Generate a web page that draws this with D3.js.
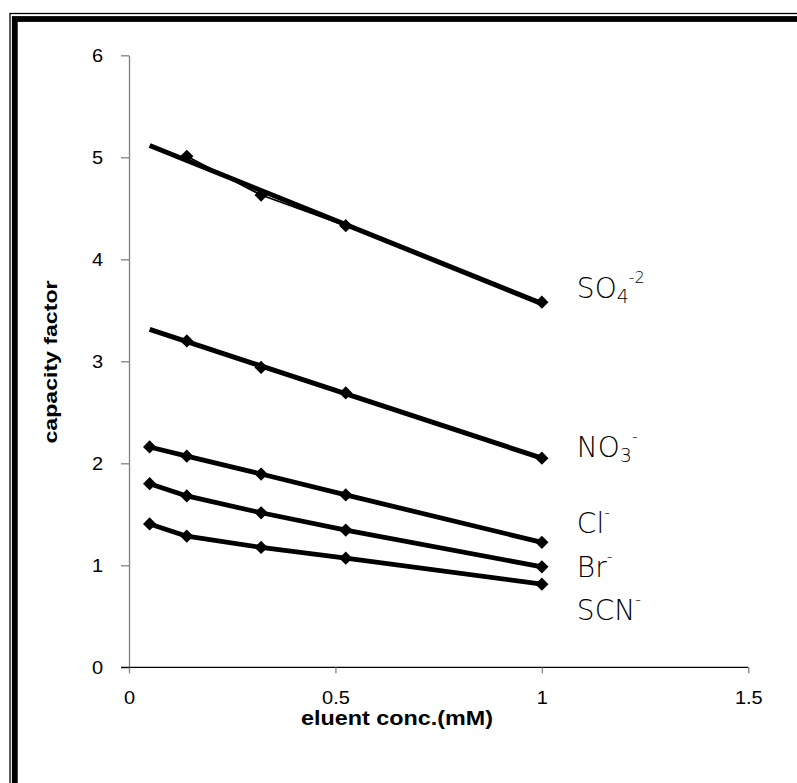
<!DOCTYPE html>
<html>
<head>
<meta charset="utf-8">
<script src="https://cdn.jsdelivr.net/npm/d3@7"></script>
<style>
body { margin: 0; background: #fff; }
svg { display: block; font-family: "Liberation Sans", Arial, sans-serif; }
</style>
</head>
<body>
<svg id="chart" width="797" height="783"></svg>
<script>
// eluent concentration (mM) shared by every series
var concentrations = [0.05, 0.14, 0.32, 0.525, 1.0];

// capacity factor per anion (null = not measured)
var sulfate = [null, 5.01, 4.63, 4.33, 3.58];
var nitrate = [null, 3.20, 2.94, 2.69, 2.05];
var chloride = [2.16, 2.07, 1.895, 1.69, 1.225];
var bromide = [1.80, 1.68, 1.515, 1.345, 0.985];
var thiocyanate = [1.405, 1.285, 1.175, 1.07, 0.815];

var xTicks = [0, 0.5, 1, 1.5];
var yTicks = [0, 1, 2, 3, 4, 5, 6];

var ionNames = ["SO", "NO", "Cl", "Br", "SCN"];
var ionSubs = ["4", "3", "", "", ""];
var ionCharges = ["-2", "-", "-", "-", "-"];
// level (capacity factor units) where each ion name sits
var labelLevels = [3.62, 2.06, 1.32, 0.89, 0.46];
// sulfate and nitrate are shown with a linear trendline
var withTrend = [true, true, false, false, false];

var series = [sulfate, nitrate, chloride, bromide, thiocyanate];

var svg = d3.select("#chart");

var x = d3.scaleLinear().domain([0, 1.5]).range([129, 748.3]);
var y = d3.scaleLinear().domain([0, 6]).range([667.3, 55.3]);

// stretch text horizontally like the original picture
var widen = function (sel, k) {
    sel.each(function () {
        var w = this.getComputedTextLength();
        d3.select(this).attr("textLength", w * k).attr("lengthAdjust", "spacingAndGlyphs");
    });
};

// double frame (only top and left fall inside the picture)
svg.append("rect")
    .attr("x", 10).attr("y", 13.5)
    .attr("width", 1000).attr("height", 1000)
    .attr("fill", "none").attr("stroke", "#000").attr("stroke-width", 1.3);
svg.append("rect")
    .attr("x", 14.8).attr("y", 19)
    .attr("width", 1000).attr("height", 1000)
    .attr("fill", "none").attr("stroke", "#000").attr("stroke-width", 5.8);

// y axis
var gy = svg.append("g")
    .attr("transform", "translate(" + x(0) + ",0)")
    .call(d3.axisLeft(y).tickValues(yTicks).tickSize(8).tickSizeOuter(0)
        .tickPadding(18).tickFormat(d3.format("d")));
gy.select(".domain").attr("stroke", "#808080").attr("stroke-width", 1.3);
gy.selectAll(".tick line").attr("stroke", "#808080").attr("stroke-width", 1.3);
gy.selectAll(".tick text").attr("font-size", 18.5).attr("fill", "#000")
    .attr("font-family", "Liberation Sans, Arial, sans-serif")
    .call(widen, 1.08);

// x axis
var gx = svg.append("g")
    .attr("transform", "translate(0," + y(0) + ")")
    .call(d3.axisBottom(x).tickValues(xTicks).tickSize(6).tickSizeOuter(0)
        .tickPadding(18).tickFormat(function (d) { return String(d); }));
gx.select(".domain")
    .attr("d", "M" + (x(0) - 8) + ",0H" + x(1.5))
    .attr("stroke", "#000").attr("stroke-width", 1.3);
gx.selectAll(".tick line").attr("stroke", "#808080").attr("stroke-width", 1.3);
gx.selectAll(".tick text").attr("font-size", 18.5).attr("fill", "#000")
    .attr("font-family", "Liberation Sans, Arial, sans-serif")
    .call(widen, 1.08);

// axis titles
svg.append("text")
    .attr("transform", "translate(57,362) rotate(-90)")
    .attr("text-anchor", "middle")
    .attr("font-weight", "bold")
    .attr("font-size", 18)
    .attr("textLength", 163).attr("lengthAdjust", "spacingAndGlyphs")
    .text("capacity factor");

svg.append("text")
    .attr("x", 397).attr("y", 725)
    .attr("text-anchor", "middle")
    .attr("font-weight", "bold")
    .attr("font-size", 19.5)
    .attr("textLength", 192).attr("lengthAdjust", "spacingAndGlyphs")
    .text("eluent conc.(mM)");

var points = function (values) {
    return values.map(function (v, i) {
        return { c: concentrations[i], v: v };
    });
};

var line = d3.line()
    .defined(function (d) { return d.v !== null; })
    .x(function (d) { return x(d.c); })
    .y(function (d) { return y(d.v); });

// least squares fit over the measured points
var fit = function (pts) {
    pts = pts.filter(function (d) { return d.v !== null; });
    var mx = d3.mean(pts, function (d) { return d.c; });
    var my = d3.mean(pts, function (d) { return d.v; });
    var sxy = d3.sum(pts, function (d) { return (d.c - mx) * (d.v - my); });
    var sxx = d3.sum(pts, function (d) { return (d.c - mx) * (d.c - mx); });
    var slope = sxy / sxx;
    return function (c) { return my + slope * (c - mx); };
};

var diamond = d3.symbol().type(d3.symbolSquare).size(88);

series.forEach(function (values, i) {
    var pts = points(values);
    var g = svg.append("g");

    if (withTrend[i]) {
        var f = fit(pts);
        var ends = [concentrations[0], concentrations[concentrations.length - 1]];
        g.append("path")
            .attr("d", line(ends.map(function (c) { return { c: c, v: f(c) }; })))
            .attr("fill", "none").attr("stroke", "#000").attr("stroke-width", 5)
            .attr("stroke-linecap", "butt");
        g.append("path")
            .attr("d", line(pts))
            .attr("fill", "none").attr("stroke", "#000").attr("stroke-width", 1.8);
    } else {
        g.append("path")
            .attr("d", line(pts))
            .attr("fill", "none").attr("stroke", "#000").attr("stroke-width", 4.8)
            .attr("stroke-linejoin", "round");
    }

    g.selectAll(".mark").data(pts.filter(function (d) { return d.v !== null; }))
        .enter().append("path")
        .attr("class", "mark")
        .attr("d", diamond)
        .attr("transform", function (d) {
            return "translate(" + x(d.c) + "," + y(d.v) + ") rotate(45)";
        })
        .attr("fill", "#000");
});

// ion labels at the right end of the lines
ionNames.forEach(function (name, i) {
    var t = svg.append("text")
        .attr("x", x(1) + 35)
        .attr("y", y(labelLevels[i]))
        .attr("font-family", "DejaVu Sans, sans-serif")
        .attr("font-weight", 200)
        .attr("font-size", 28)
        .attr("fill", "#000");
    t.append("tspan").text(name);
    var shift = 0;
    if (ionSubs[i]) {
        t.append("tspan").attr("font-size", 19).attr("dy", 5).text(ionSubs[i]);
        shift = 5;
    }
    t.append("tspan").attr("font-size", 16).attr("dy", -15 - shift).text(ionCharges[i]);
});
</script>
</body>
</html>
